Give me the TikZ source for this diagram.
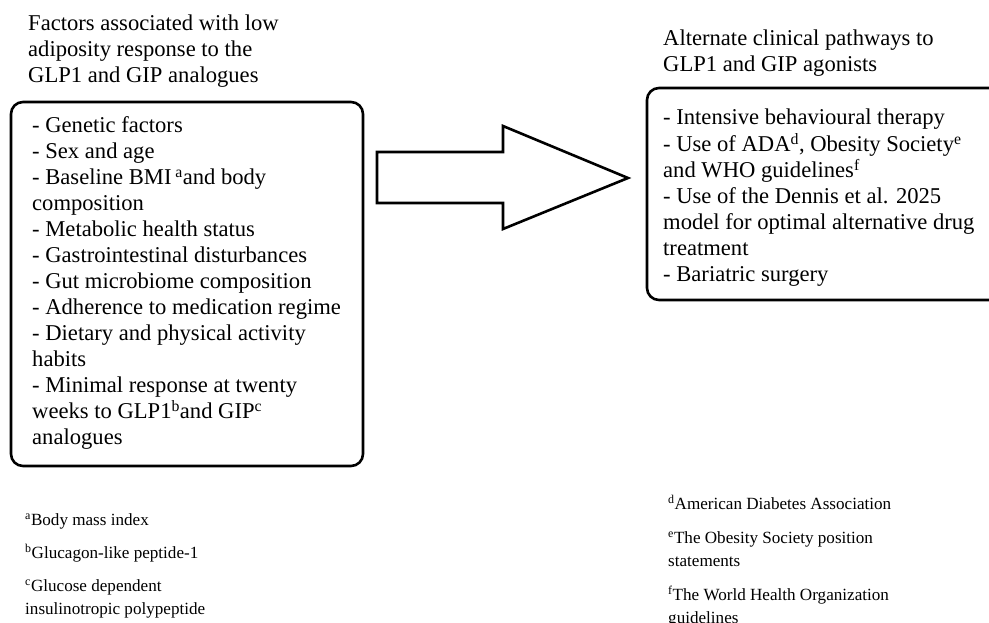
\documentclass[tikz,border=0pt]{standalone}
\usepackage{fontspec}
\setmainfont{Liberation Serif}
\newcommand\mainsize{\fontsize{22.6}{26}\selectfont}
\newcommand\notesize{\fontsize{17.1}{23}\selectfont}
\tikzset{
  boxframe/.style={draw=black, line width=2.6pt, rounded corners=12pt, inner sep=0pt},
  maintext/.style={anchor=north west, inner sep=0pt, align=left, font=\mainsize},
  notetext/.style={anchor=north west, inner sep=0pt, align=left, font=\notesize},
  bigarrow/.style={draw=black, line width=2.6pt, fill=white, line join=miter},
}
\begin{document}
\begin{tikzpicture}[x=1pt, y=-1pt]
\clip (0,0) rectangle (989,623);
\fill[white] (0,0) rectangle (989,623);

% titles
\node[maintext] (ltitle) at (28,12.5) {\strut Factors associated with low\\adiposity response to the\\GLP1 and GIP analogues};
\node[maintext] (rtitle) at (663,26.8) {\strut Alternate clinical pathways to\\GLP1 and GIP agonists};

% boxes
\node[boxframe, minimum width=352pt, minimum height=364pt] (lbox) at (187,284) {};
\node[boxframe, minimum width=366pt, minimum height=212pt] (rbox) at (830,194) {};

\node[maintext] (ltext) at (32,114.3) {\strut - Genetic factors\\
- Sex and age\\
- Baseline BMI\,\textsuperscript{a}and body\\
composition\\
- Metabolic health status\\
- Gastrointestinal disturbances\\
- Gut microbiome composition\\
- Adherence to medication regime\\
- Dietary and physical activity\\
habits\\
- Minimal response at twenty\\
weeks to GLP1\textsuperscript{b}and GIP\textsuperscript{c}\\
analogues};

\node[maintext] (rtext) at (663,106) {\strut - Intensive behavioural therapy\\
- Use of ADA\textsuperscript{d}, Obesity Society\textsuperscript{e}\\
and WHO guidelines\textsuperscript{f}\\
- Use of the Dennis et al. 2025\\
model for optimal alternative drug\\
treatment\\
- Bariatric surgery};

% block arrow between the boxes
\coordinate (atail) at (377,177.5);
\coordinate (atip) at (628,178);
\draw[bigarrow] (377,152) -- (503,152) -- (503,126) -- (atip) -- (503,229) -- (503,203) -- (377,203) -- cycle;

% footnotes
\node[notetext] (fa) at (25,509) {\strut\textsuperscript{a}Body mass index};
\node[notetext] (fb) at (25,542) {\strut\textsuperscript{b}Glucagon-like peptide-1};
\node[notetext] (fc) at (25,575) {\strut\textsuperscript{c}Glucose dependent\\insulinotropic polypeptide};
\node[notetext] (fd) at (668,493) {\strut\textsuperscript{d}American Diabetes Association};
\node[notetext] (fe) at (668,527) {\strut\textsuperscript{e}The Obesity Society position\\statements};
\node[notetext] (ff) at (668,584) {\strut\textsuperscript{f}The World Health Organization\\guidelines};
\end{tikzpicture}
\end{document}
